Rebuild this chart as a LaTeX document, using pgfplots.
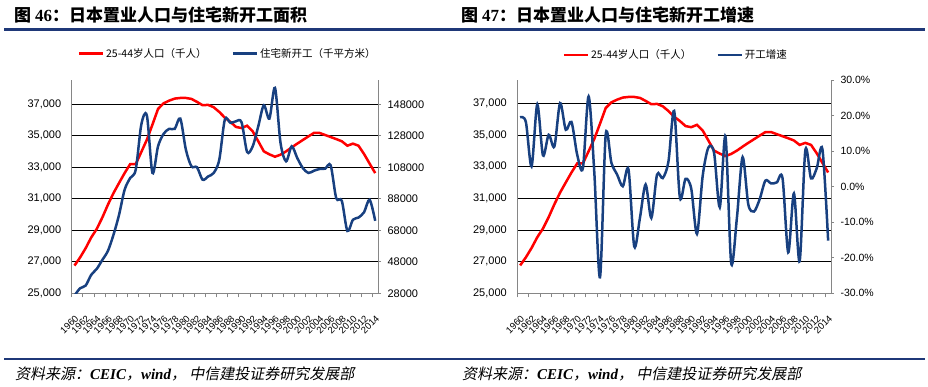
\documentclass[border=0pt]{standalone}
\usepackage{pgfplots}
\usepackage{pgfplotstable}
\pgfplotsset{compat=1.18}
\usepackage{fontspec}
\setmainfont{Liberation Sans}
\newfontfamily\cjk{Noto Sans CJK SC}
\newfontfamily\cjksl[FakeSlant=0.2]{Noto Sans CJK SC}
\newfontfamily\tnr{Liberation Serif}
\definecolor{navy}{RGB}{31,56,120}
\definecolor{serblue}{RGB}{24,64,128}
\definecolor{axgray}{RGB}{134,134,134}

\pgfplotstableread{
x pop area growth
0 26760 26500 19.5
1 27270 31200 18.2
2 27860 32900 5.7
3 28540 39700 23.1
4 29090 43500 8.8
5 29810 49200 14.6
6 30620 54900 11.3
7 31360 65100 23.5
8 32000 77800 16.0
9 32630 93700 18.2
10 33200 101200 9.0
11 33200 106500 5.2
12 33970 135100 25.4
13 34750 140800 4.0
14 35710 104400 -25.5
15 36700 121300 14.6
16 37060 129200 6.7
17 37230 132400 3.4
18 37360 132400 0.1
19 37400 138900 4.8
20 37400 119200 -16.8
21 37340 108600 -8.8
22 37150 108000 0.6
23 36940 100100 -8.8
24 36960 102200 3.4
25 36810 104400 2.4
26 36510 112800 7.1
27 36150 138300 21.3
28 35880 136200 -3.0
29 35560 137200 2.2
30 35490 136600 -0.6
31 35640 117700 -13.3
32 35280 121300 3.0
33 34650 134000 11.0
34 34010 147400 9.5
35 33820 138900 -5.8
36 33670 158400 14.1
37 33800 123400 -21.5
38 34010 111800 -8.8
39 34260 121300 8.3
40 34500 113900 -5.0
41 34730 107500 -7.0
42 34960 104400 -3.5
43 35180 105800 1.7
44 35180 106900 0.9
45 35050 107100 1.2
46 34920 109200 2.4
47 34790 88400 -18.5
48 34650 86700 -1.9
49 34370 67600 -21.0
50 34500 74700 10.2
51 34370 76100 2.3
52 33840 79500 5.2
53 33230 87400 10.5
54 32630 74000 -15.2
}\datatable

\pgfplotsset{
  base/.style={
    scale only axis, height=213.3pt, anchor=south west,
    xmin=-0.5, xmax=54.5, scaled y ticks=false,
    axis line style={axgray, line width=0.8pt, -},
    /pgf/number format/assume math mode=true,
  },
  leftax/.style={
    base, axis x line*=bottom, axis y line*=left,
    ytick={27000,29000,...,37000}, extra y ticks={25000},
    extra y tick style={grid=none},
    ymajorgrids, grid style={black, line width=0.8pt},
    y tick label style={font=\fontsize{11}{13}\selectfont,
      /pgf/number format/.cd, fixed, precision=0, 1000 sep={,}, assume math mode=true},
    yticklabel shift=7pt,
    major tick length=0pt,
    xtick={0,2,...,54},
    xticklabel={\pgfmathparse{int(1960+\tick)}\pgfmathresult},
    minor xtick={-0.5,1.5,...,54.5}, minor tick length=4pt, tick align=outside,
    tick style={axgray, line width=0.8pt},
    x tick label style={font=\fontsize{9.5}{10}\selectfont, rotate=45, anchor=north east, inner sep=0pt},
    xticklabel shift=21pt,
  },
  rightax/.style={
    base, axis y line*=right, axis x line=none,
    major tick length=3pt, tick align=outside,
    tick style={axgray, line width=0.8pt},
    yticklabel shift=3pt,
    legend style={draw=none, fill=none, font=\fontsize{10.5}{12}\selectfont\cjk,
      legend columns=2, /tikz/every even column/.append style={column sep=23pt},
      inner sep=0pt, anchor=center},
    legend image code/.code={\draw[#1] (0pt,0pt) -- (24pt,0pt);},
    legend cell align=left,
  },
}

\begin{document}
\begin{tikzpicture}[x=1pt,y=1pt]
\path[use as bounding box] (0,0) rectangle (928,386);

% titles
\node[anchor=west, inner sep=0pt] at (14,371.5) {\fontsize{17}{20}\selectfont{\cjk\bfseries 图 }{\tnr\bfseries 46}{\cjk\bfseries ：日本置业人口与住宅新开工面积}};
\node[anchor=west, inner sep=0pt] at (461,371.5) {\fontsize{17}{20}\selectfont{\cjk\bfseries 图 }{\tnr\bfseries 47}{\cjk\bfseries ：日本置业人口与住宅新开工增速}};

% rules
\draw[navy, line width=3pt] (4,356.5) -- (925,356.5);
\draw[navy, line width=2.5pt] (4,27) -- (925,27);

% sources
\node[anchor=west, inner sep=0pt] at (15,12) {\fontsize{15}{18}\selectfont\cjksl 资料来源：{\tnr\bfseries\itshape CEIC}，{\tnr\bfseries\itshape wind}， 中信建投证券研究发展部};
\node[anchor=west, inner sep=0pt] at (462,12) {\fontsize{15}{18}\selectfont\cjksl 资料来源：{\tnr\bfseries\itshape CEIC}，{\tnr\bfseries\itshape wind}， 中信建投证券研究发展部};

% ===== Panel 1 =====
\begin{axis}[leftax, at={(71.7pt,92.7pt)}, width=306.3pt, ymin=25000, ymax=38540]
\addplot[red, line width=2.5pt] table[x=x, y=pop] {\datatable};
\end{axis}
\begin{axis}[rightax, at={(71.7pt,92.7pt)}, width=306.3pt, ymin=28000, ymax=163400,
  ytick={28000,48000,...,148000},
  y tick label style={font=\fontsize{11}{13}\selectfont,
      /pgf/number format/.cd, fixed, precision=0, 1000 sep={}, assume math mode=true},
  legend style={at={(0.509,1.125)}}]
\addlegendimage{red, line width=2.5pt}
\addlegendentry{25-44岁人口（千人）}
\addplot[serblue, line width=2.5pt, smooth, tension=0.5] table[x=x, y=area] {\datatable};
\addlegendentry{住宅新开工（千平方米）}
\end{axis}

% ===== Panel 2 =====
\begin{axis}[leftax, at={(517.3pt,92.7pt)}, width=313.7pt, ymin=25000, ymax=38470]
\addplot[red, line width=2.5pt] table[x=x, y=pop] {\datatable};
\end{axis}
\begin{axis}[rightax, at={(517.3pt,92.7pt)}, width=313.7pt, ymin=-30, ymax=30,
  ytick={-30,-20,...,30},
  yticklabel={\pgfmathprintnumber[fixed,fixed zerofill,precision=1,assume math mode=true]{\tick}\%},
  y tick label style={font=\fontsize{10.5}{12}\selectfont},
  legend style={at={(0.505,1.117)}}]
\addlegendimage{red, line width=2.5pt}
\addlegendentry{25-44岁人口（千人）}
\addplot[serblue, line width=2.5pt, smooth, tension=0.5] table[x=x, y=growth] {\datatable};
\addlegendentry{开工增速}
\end{axis}
\end{tikzpicture}
\end{document}
